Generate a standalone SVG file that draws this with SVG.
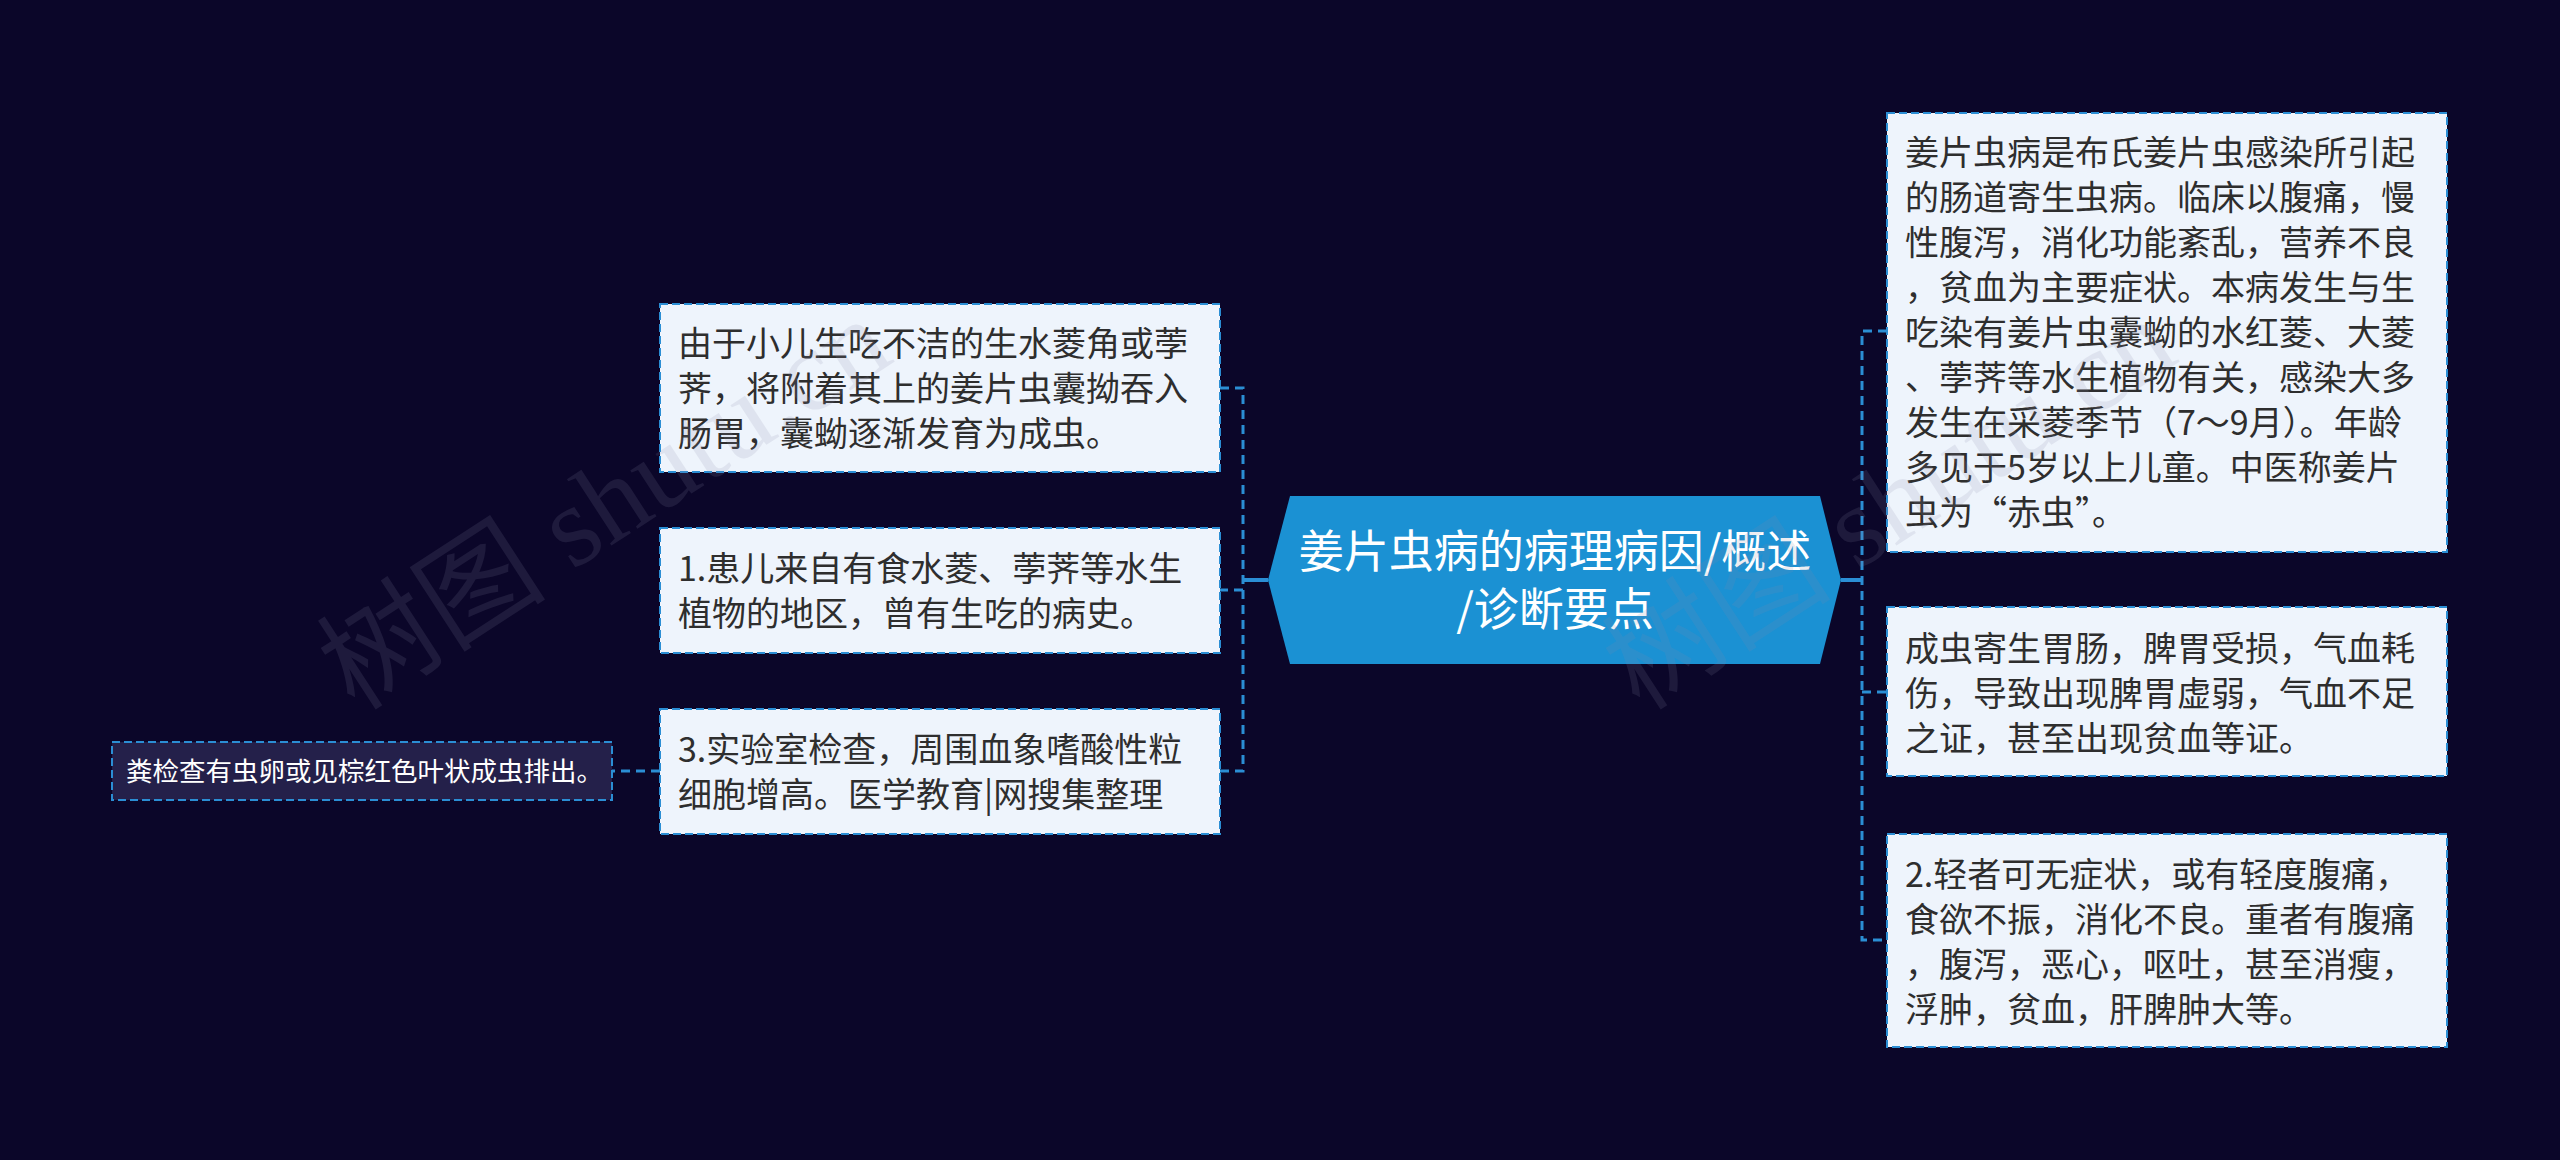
<svg xmlns="http://www.w3.org/2000/svg" width="2560" height="1160" viewBox="0 0 2560 1160">
<style>
.bg{fill:#0b0629}
.box{fill:#eef4fc;stroke:#2b8ed4;stroke-width:2;stroke-dasharray:8 4}
.dbox{fill:#24204a;stroke:#2b8ed4;stroke-width:2;stroke-dasharray:8 4}
.t{font-family:"Noto Sans CJK SC","Noto Sans",sans-serif;font-size:34px;fill:#2e2e2e}
.ts{font-family:"Noto Sans CJK SC","Noto Sans",sans-serif;font-size:26.5px;fill:#ffffff}
.tc{font-family:"Noto Sans CJK SC","Noto Sans",sans-serif;font-size:45px;fill:#ffffff;text-anchor:middle}
.hex{fill:#1b91d3}
.dash{fill:none;stroke:#2b8ed4;stroke-width:3;stroke-dasharray:9 6}
.solid{fill:none;stroke:#2b8ed4;stroke-width:4}
.wm{font-family:"Liberation Serif","Noto Sans CJK SC",serif;font-size:115px;fill:#8a8aa8;opacity:0.15}
</style>
<rect class="bg" x="0" y="0" width="2560" height="1160"/>
<g id="connectors">
  <path class="solid" d="M1268 580 H1243"/>
  <path class="dash" d="M1220 388 H1243 V771 H1220"/>
  <path class="dash" d="M1243 590 H1220"/>
  <path class="solid" d="M1841 580 H1862"/>
  <path class="dash" d="M1887 331 H1862 V940 H1887"/>
  <path class="dash" d="M1862 692 H1887"/>
  <path class="dash" d="M660 771 H612"/>
</g>
<g id="center">
  <polygon class="hex" points="1268,580 1290,496 1820,496 1841,580 1820,664 1290,664"/>
  <text class="tc" x="1555" y="568">姜片虫病的病理病因/概述</text>
  <text class="tc" x="1555" y="626">/诊断要点</text>
</g>
<g id="left1">
  <rect class="box" x="660" y="304" width="560" height="168"/>
  <text class="t" x="678" y="356">由于小儿生吃不洁的生水菱角或荸</text>
  <text class="t" x="678" y="401">荠，将附着其上的姜片虫囊拗吞入</text>
  <text class="t" x="678" y="446">肠胃，囊蚴逐渐发育为成虫。</text>
</g>
<g id="left2">
  <rect class="box" x="660" y="528" width="560" height="125"/>
  <text class="t" x="678" y="581">1.患儿来自有食水菱、荸荠等水生</text>
  <text class="t" x="678" y="626">植物的地区，曾有生吃的病史。</text>
</g>
<g id="left3">
  <rect class="box" x="660" y="709" width="560" height="125"/>
  <text class="t" x="678" y="762">3.实验室检查，周围血象嗜酸性粒</text>
  <text class="t" x="678" y="807">细胞增高。医学教育|网搜集整理</text>
</g>
<g id="farleft">
  <rect class="dbox" x="112" y="742" width="500" height="58"/>
  <text class="ts" x="126" y="781">粪检查有虫卵或见棕红色叶状成虫排出。</text>
</g>
<g id="right1">
  <rect class="box" x="1887" y="113" width="560" height="439"/>
  <text class="t" x="1905" y="165">姜片虫病是布氏姜片虫感染所引起</text>
  <text class="t" x="1905" y="210">的肠道寄生虫病。临床以腹痛，慢</text>
  <text class="t" x="1905" y="255">性腹泻，消化功能紊乱，营养不良</text>
  <text class="t" x="1905" y="300">，贫血为主要症状。本病发生与生</text>
  <text class="t" x="1905" y="345">吃染有姜片虫囊蚴的水红菱、大菱</text>
  <text class="t" x="1905" y="390">、荸荠等水生植物有关，感染大多</text>
  <text class="t" x="1905" y="435">发生在采菱季节（7～9月）。年龄</text>
  <text class="t" x="1905" y="480">多见于5岁以上儿童。中医称姜片</text>
  <text class="t" x="1905" y="525">虫为“赤虫”。</text>
</g>
<g id="right2">
  <rect class="box" x="1887" y="607" width="560" height="169"/>
  <text class="t" x="1905" y="661">成虫寄生胃肠，脾胃受损，气血耗</text>
  <text class="t" x="1905" y="706">伤，导致出现脾胃虚弱，气血不足</text>
  <text class="t" x="1905" y="751">之证，甚至出现贫血等证。</text>
</g>
<g id="right3">
  <rect class="box" x="1887" y="834" width="560" height="213"/>
  <text class="t" x="1905" y="887">2.轻者可无症状，或有轻度腹痛，</text>
  <text class="t" x="1905" y="932">食欲不振，消化不良。重者有腹痛</text>
  <text class="t" x="1905" y="977">，腹泻，恶心，呕吐，甚至消瘦，</text>
  <text class="t" x="1905" y="1022">浮肿，贫血，肝脾肿大等。</text>
</g>
<g id="watermarks">
  <text class="wm" transform="translate(355 712) rotate(-33)">树图 shutu.cn</text>
  <text class="wm" transform="translate(1640 712) rotate(-33)">树图 shutu.cn</text>
</g>
</svg>
